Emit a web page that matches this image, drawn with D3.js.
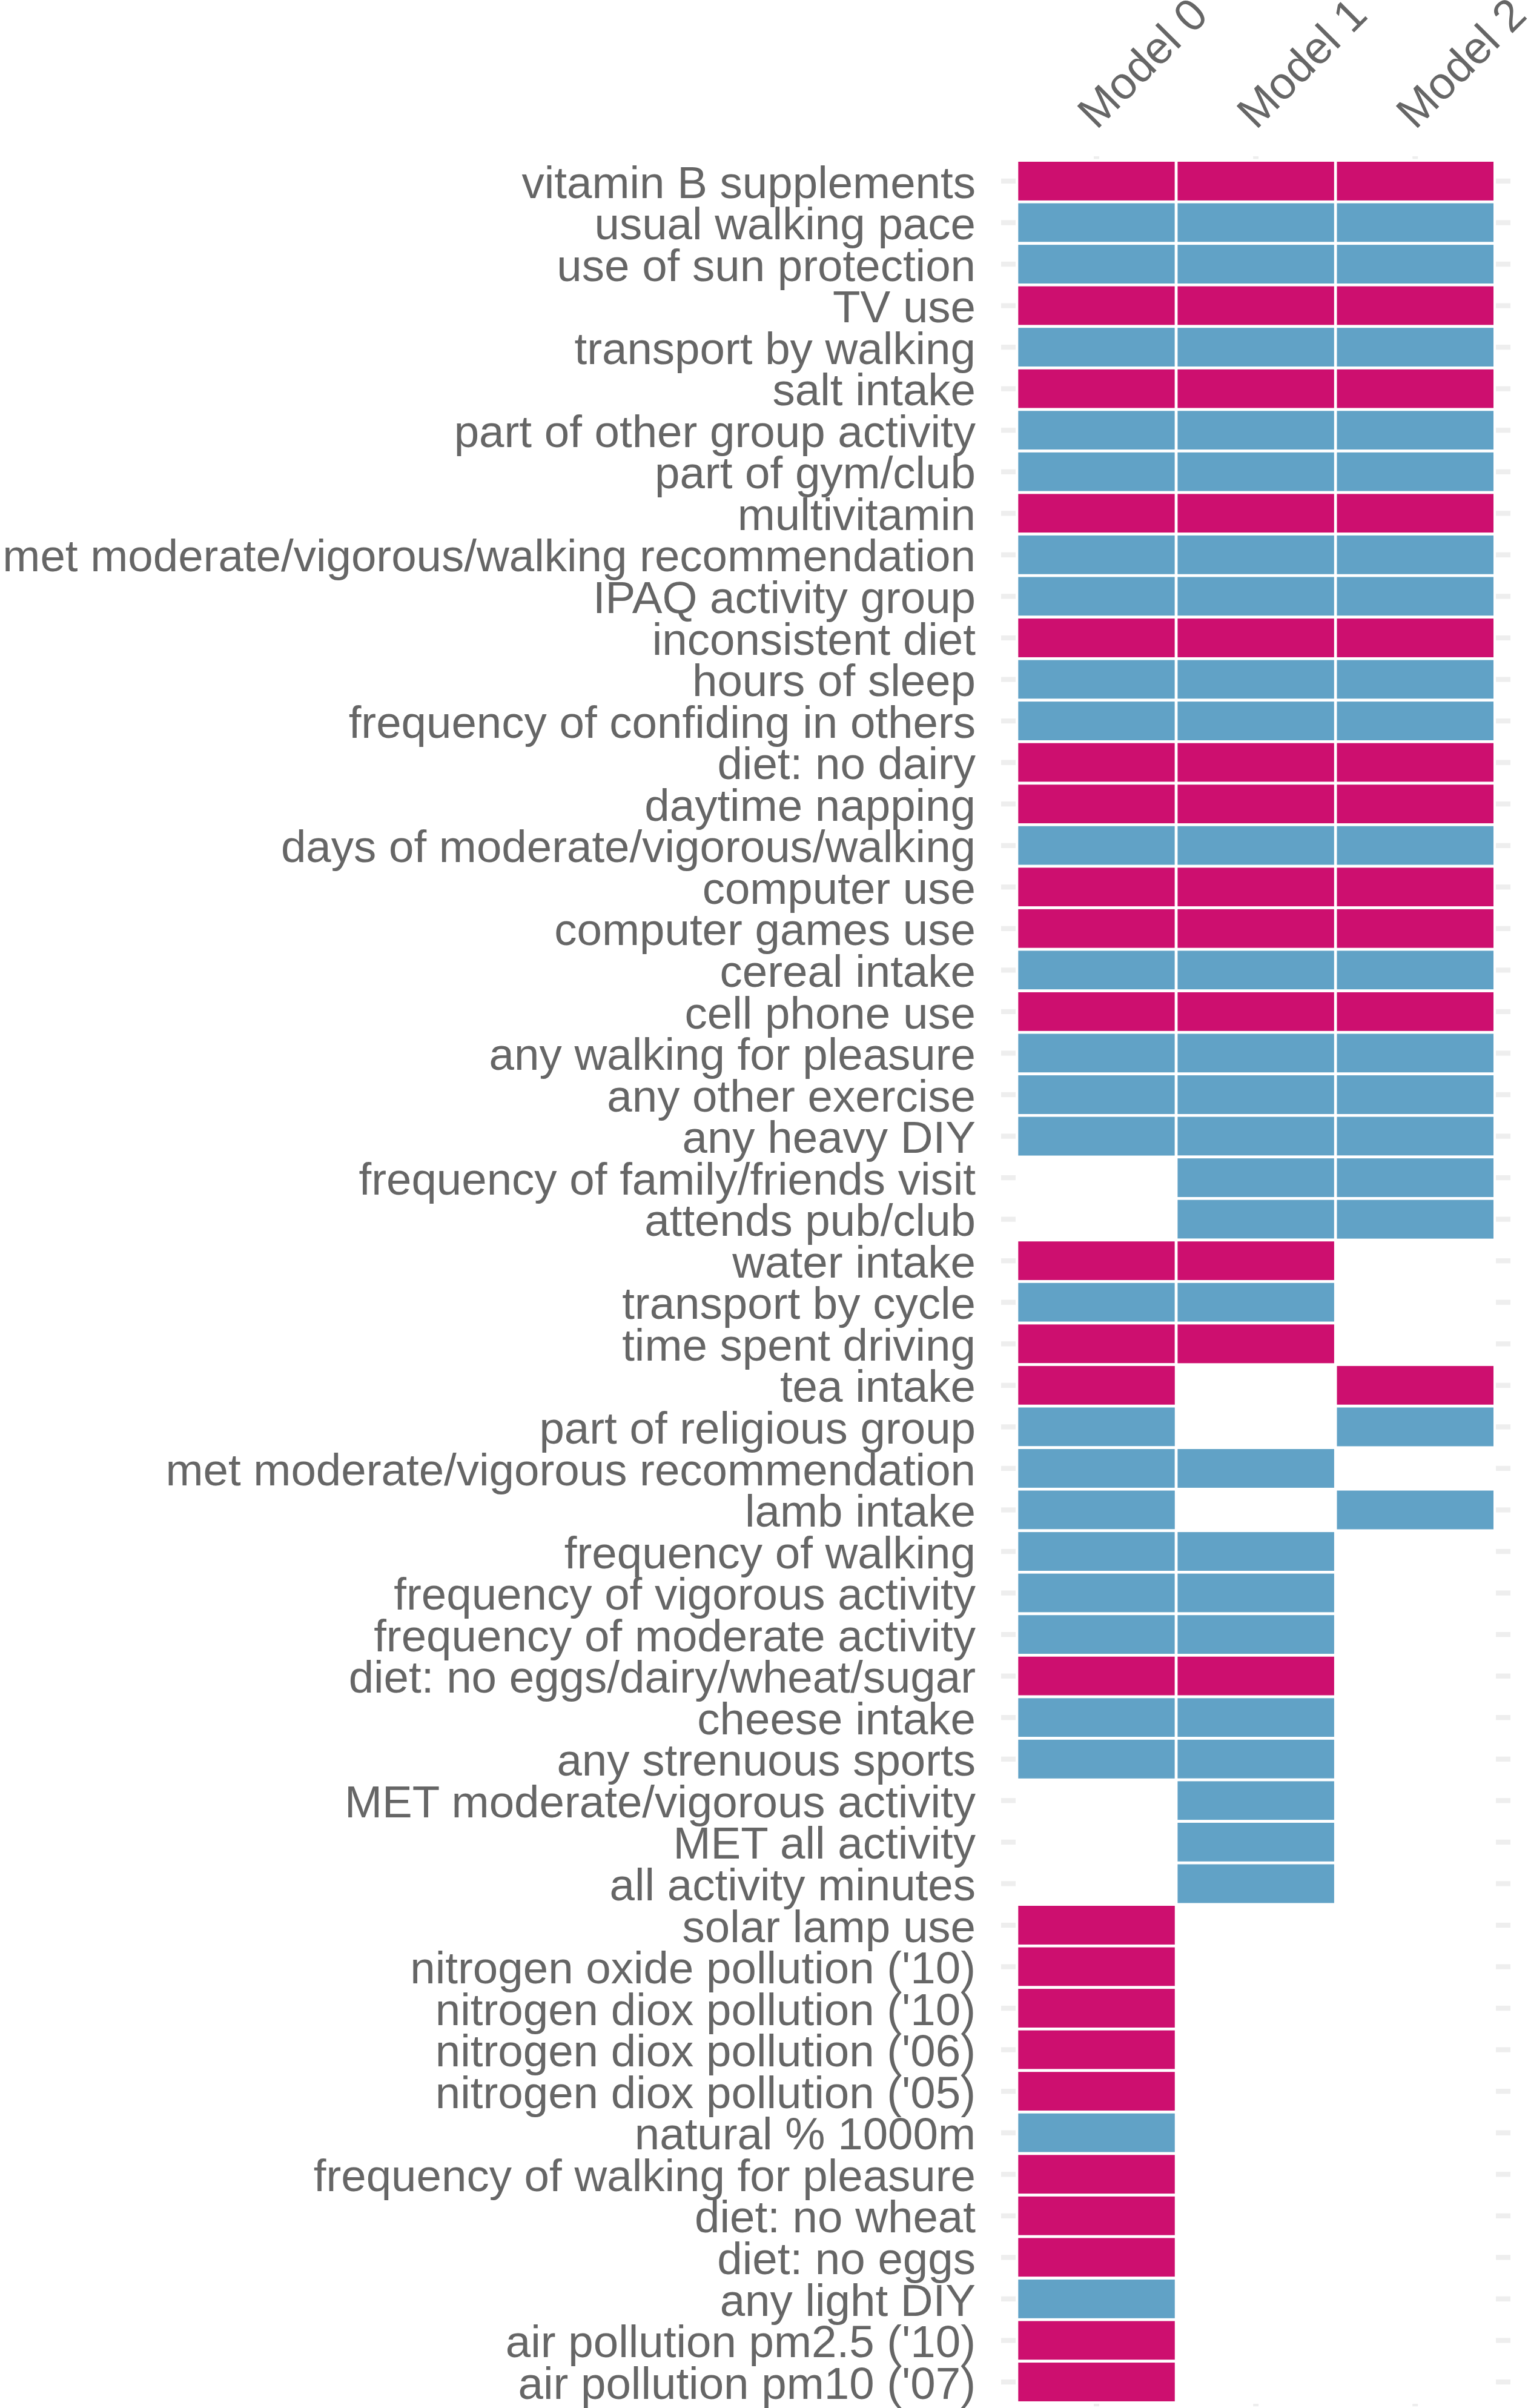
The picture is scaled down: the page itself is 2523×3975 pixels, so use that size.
<!DOCTYPE html>
<html>
<head>
<meta charset="utf-8">
<script src="https://cdn.jsdelivr.net/npm/d3@7"></script>
<style>
  html, body { margin: 0; padding: 0; background: #ffffff; }
  svg { display: block; }
</style>
</head>
<body>
<svg id="chart" width="2523" height="3975"></svg>
<script>
// ---------- DATA ----------
const models = ["Model 0", "Model 1", "Model 2"];

const variables = [
  "vitamin B supplements",
  "usual walking pace",
  "use of sun protection",
  "TV use",
  "transport by walking",
  "salt intake",
  "part of other group activity",
  "part of gym/club",
  "multivitamin",
  "met moderate/vigorous/walking recommendation",
  "IPAQ activity group",
  "inconsistent diet",
  "hours of sleep",
  "frequency of confiding in others",
  "diet: no dairy",
  "daytime napping",
  "days of moderate/vigorous/walking",
  "computer use",
  "computer games use",
  "cereal intake",
  "cell phone use",
  "any walking for pleasure",
  "any other exercise",
  "any heavy DIY",
  "frequency of family/friends visit",
  "attends pub/club",
  "water intake",
  "transport by cycle",
  "time spent driving",
  "tea intake",
  "part of religious group",
  "met moderate/vigorous recommendation",
  "lamb intake",
  "frequency of walking",
  "frequency of vigorous activity",
  "frequency of moderate activity",
  "diet: no eggs/dairy/wheat/sugar",
  "cheese intake",
  "any strenuous sports",
  "MET moderate/vigorous activity",
  "MET all activity",
  "all activity minutes",
  "solar lamp use",
  "nitrogen oxide pollution ('10)",
  "nitrogen diox pollution ('10)",
  "nitrogen diox pollution ('06)",
  "nitrogen diox pollution ('05)",
  "natural % 1000m",
  "frequency of walking for pleasure",
  "diet: no wheat",
  "diet: no eggs",
  "any light DIY",
  "air pollution pm2.5 ('10)",
  "air pollution pm10 ('07)"
];

// direction of association per model: "+" (blue), "-" (magenta), null (not selected)
const model0 = ["-","+","+","-","+","-","+","+","-","+","+","-","+","+","-","-","+","-","-","+","-","+","+","+",
                null,null,"-","+","-","-","+","+","+","+","+","+","-","+","+",null,null,null,
                "-","-","-","-","-","+","-","-","-","+","-","-"];
const model1 = ["-","+","+","-","+","-","+","+","-","+","+","-","+","+","-","-","+","-","-","+","-","+","+","+",
                "+","+","-","+","-",null,null,"+",null,"+","+","+","-","+","+","+","+","+",
                null,null,null,null,null,null,null,null,null,null,null,null];
const model2 = ["-","+","+","-","+","-","+","+","-","+","+","-","+","+","-","-","+","-","-","+","-","+","+","+",
                "+","+",null,null,null,"-","+",null,"+",null,null,null,null,null,null,null,null,null,
                null,null,null,null,null,null,null,null,null,null,null,null];

const directions = ["-", "+"];
const directionColors = ["#CD0F6F", "#61A2C6"];

// ---------- LAYOUT ----------
const svg = d3.select("#chart");
const textColor = "#666666";
const tickColor = "#EEEEEE";
const fontFamily = "'Liberation Sans', Arial, Helvetica, sans-serif";
const fontSize = 74.5;

const x = d3.scaleBand().domain(models).range([1679, 2468.3]).padding(0);
const y = d3.scaleBand().domain(variables).range([264.7, 3966.3]).padding(0);
const color = d3.scaleOrdinal().domain(directions).range(directionColors);

const seriesByModel = [model0, model1, model2];
const cells = [];
models.forEach((m, mi) => {
  variables.forEach((v, vi) => {
    const d = seriesByModel[mi][vi];
    if (d) cells.push({ model: m, variable: v, dir: d });
  });
});

// ---------- TILES ----------
svg.append("g")
  .selectAll("rect")
  .data(cells)
  .join("rect")
  .attr("x", d => x(d.model))
  .attr("y", d => y(d.variable))
  .attr("width", x.bandwidth())
  .attr("height", y.bandwidth())
  .attr("fill", d => color(d.dir))
  .attr("stroke", "#ffffff")
  .attr("stroke-width", 4.6);

// ---------- AXES ----------
function styleAxis(g, strokeW) {
  g.select(".domain").remove();
  g.selectAll(".tick line").attr("stroke", tickColor).attr("stroke-width", strokeW);
  g.selectAll(".tick text")
    .attr("fill", textColor)
    .attr("font-family", fontFamily)
    .attr("font-size", fontSize);
}

// left axis with labels
const leftAxis = svg.append("g")
  .attr("transform", "translate(1677,0)")
  .call(d3.axisLeft(y).tickSize(24).tickPadding(42));
styleAxis(leftAxis, 8.3);
leftAxis.selectAll(".tick text").attr("dy", "0.37em");

// right axis (ticks only)
const rightAxis = svg.append("g")
  .attr("transform", "translate(2470,0)")
  .call(d3.axisRight(y).tickSize(24).tickFormat(""));
styleAxis(rightAxis, 8.3);

// top axis with rotated labels
const topAxis = svg.append("g")
  .attr("transform", "translate(0,262.3)")
  .call(d3.axisTop(x).tickSize(4.3));
styleAxis(topAxis, 9);
topAxis.selectAll(".tick text")
  .attr("x", 0).attr("y", 0).attr("dy", null)
  .attr("text-anchor", "start")
  .attr("transform", "translate(0,-46.8) rotate(-45)");

// bottom axis (ticks only)
const bottomAxis = svg.append("g")
  .attr("transform", "translate(0,3968)")
  .call(d3.axisBottom(x).tickSize(4.3).tickFormat(""));
styleAxis(bottomAxis, 9);
</script>
</body>
</html>
